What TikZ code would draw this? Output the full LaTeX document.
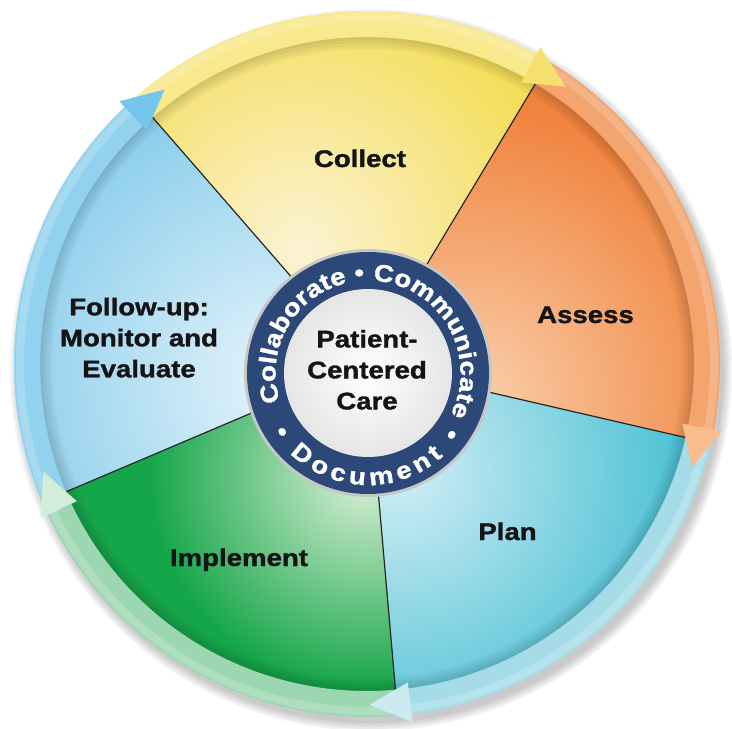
\documentclass[tikz,border=0pt]{standalone}
\usepackage{fontspec}
\setmainfont{Liberation Sans}
\newfontfamily\labfont{Liberation Sans Bold}[FakeStretch=1.15,FakeBold=1.4]
\usetikzlibrary{decorations.text}
\definecolor{navy}{HTML}{2C4878}
\definecolor{colL}{HTML}{FBF3D4}\definecolor{colD}{HTML}{F4DB4A}
\definecolor{asL}{HTML}{FAD0AC}\definecolor{asD}{HTML}{F0843F}
\definecolor{plL}{HTML}{D2EEF5}\definecolor{plD}{HTML}{3BBBD0}
\definecolor{imL}{HTML}{DDF0D8}\definecolor{imD}{HTML}{16A64A}
\definecolor{fuL}{HTML}{E6F4FB}\definecolor{fuD}{HTML}{86CCEB}
\definecolor{colBand}{HTML}{F7E98C}\definecolor{colHead}{HTML}{F6E170}
\definecolor{asBand}{HTML}{F4A46D}\definecolor{asHead}{HTML}{F8BC8E}
\definecolor{plBand}{HTML}{A6DCE7}\definecolor{plHead}{HTML}{CBEBF1}
\definecolor{imBand}{HTML}{9DD7B2}\definecolor{imHead}{HTML}{D2EDD8}
\definecolor{fuBand}{HTML}{93D2EE}\definecolor{fuHead}{HTML}{74C5E9}
\def\mysector#1#2#3#4#5#6{%
  \begin{scope}
    \clip (0,0) -- (#1:340) arc[start angle=#1, end angle=#2, radius=340] -- cycle;
    \fill[#6] (0,0) circle (340);
    \shade[inner color=#5, outer color=#6] #3 circle (#4);
  \end{scope}}
\def\myband#1#2#3{%
  \fill[#3] ({#1+1.5}:327) arc[start angle={#1+1.5}, end angle={#2+2.3}, radius=327]
    -- ({#2+2.3}:353) arc[start angle={#2+2.3}, end angle={#1+1.5}, radius=353] -- cycle;}
\def\myhead#1#2{%
  \fill[#2] ({#1+2.3}:321) -- ({#1-4.6}:341) -- ({#1+2.3}:361) -- cycle;}
\begin{document}
\begin{tikzpicture}[x=1pt,y=1pt,
  lab/.style={font=\labfont\fontsize{24}{31}\selectfont, text=black!92, inner sep=0pt, align=center},
  divider/.style={draw=black!85, line width=1.2pt}]
\useasboundingbox (-367,-365) rectangle (365,364);
\fill[white] (-367,-365) rectangle (365,364);
\coordinate (O) at (0,0);
\coordinate (N) at (1,-9);
% drop shadow
\foreach \r in {0,2,4,6,8} \fill[black,opacity=0.045] (4,-6) circle ({353+\r});
% sectors
\mysector{59}{131}{(-67,114)}{300}{colL}{colD}
\mysector{-13}{59}{(103,-36)}{290}{asL}{asD}
\mysector{-85}{-13}{(33,-106)}{320}{plL}{plD}
\mysector{-157}{-85}{(-2,-110)}{215}{imL}{imD}
\mysector{131}{203}{(-87,-16)}{300}{fuL}{fuD}
% bevel shadow inside the ring
\foreach \w in {6,12,18,24} \draw[black,opacity=0.035,line width=\w pt] (O) circle (327);
% dividers
\foreach \a in {131,59,-13,-85,-157} \draw[divider] (O) -- (\a:327);
% ring bands
\myband{131}{59}{colBand}
\myband{59}{-13}{asBand}
\myband{-13}{-85}{plBand}
\myband{-85}{-157}{imBand}
\myband{203}{131}{fuBand}
% highlight on bands
\draw[white,opacity=0.18,line width=8pt] (O) circle (347);
% arrow heads
\myhead{59}{colHead}
\myhead{-13}{asHead}
\myhead{-85}{plHead}
\myhead{-157}{imHead}
\myhead{131}{fuHead}
% centre ring
\draw[black!22, line width=4pt] (N) circle (122);
\fill[navy] (N) circle (121);
\shade[inner color=white, outer color=black!10] (N) circle (84);
\path[decorate, decoration={text along path,
   text={|\labfont\fontsize{24}{24}\selectfont\color{white}|Collaborate • Communicate},
   text align=fit to path}]
  ([shift={(198:92.5)}]N) arc[start angle=198, end angle=-27, radius=92.5];
\path[decorate, decoration={text along path,
   text={|\labfont\fontsize{24}{24}\selectfont\color{white}|• Document •},
   text align=fit to path}]
  ([shift={(-148:112)}]N) arc[start angle=-148, end angle=-34, radius=112];
% labels
\node[lab, anchor=base] (collect) at (-7,197) {Collect};
\node[lab, anchor=base] (assess) at (218.5,41) {Assess};
\node[lab, anchor=base] (plan) at (140.5,-176) {Plan};
\node[lab, anchor=base] (implement) at (-128,-202) {Implement};
\node[lab] (follow) at (-228,26.3) {Follow-up:\\Monitor and\\Evaluate};
\node[lab] (pcc) at (0,-5.8) {Patient-\\Centered\\Care};
\end{tikzpicture}
\end{document}
